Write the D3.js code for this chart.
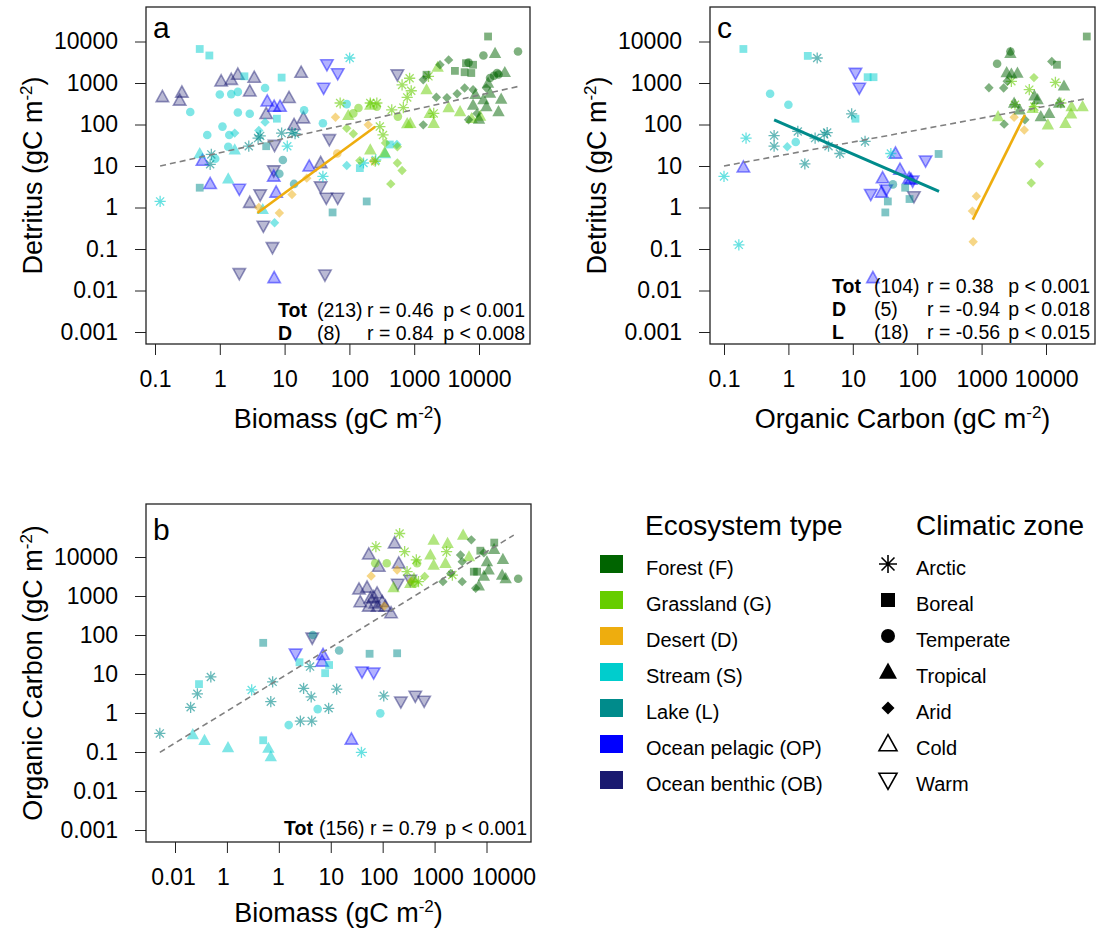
<!DOCTYPE html>
<html>
<head>
<meta charset="utf-8">
<script src="https://cdnjs.cloudflare.com/ajax/libs/d3/7.8.5/d3.min.js"></script>
<style>
  body { margin: 0; background: #fff; }
  text { font-family: "Liberation Sans", Arial, sans-serif; fill: #000; }
</style>
</head>
<body>
<div id="chart"></div>
<script>
// categories
var ecoNames = ["Forest (F)", "Grassland (G)", "Desert (D)", "Stream (S)", "Lake (L)", "Ocean pelagic (OP)", "Ocean benthic (OB)"];
var ecoColors = ["#006400", "#66cd00", "#eead0e", "#00cdcd", "#008b8b", "#0000ff", "#191970"];
var zoneNames = ["Arctic", "Boreal", "Temperate", "Tropical", "Arid", "Cold", "Warm"];
var zoneCodes = ["A", "B", "T", "P", "R", "C", "W"];

// panel a : biomass (x) vs detritus (y), [x, y, zone]
var aForest = [[13800,13200,"B"],[8100,2750,"B"],[6000,1820,"B"],[4250,1960,"B"],[1550,1580,"B"],[7600,1740,"B"],[6300,3000,"B"],
  [40000,5750,"T"],[11700,4600,"T"],[6900,3100,"T"],[14800,1320,"T"],[19000,1740,"T"],[20000,1600,"T"],[17000,1500,"T"],
  [17700,5200,"P"],[25000,1800,"P"],[13800,1000,"P"],[14800,570,"P"],[11700,400,"P"],[8800,530,"P"],[22000,410,"P"],[20000,205,"P"],[10000,135,"P"],[13000,270,"P"],[8100,295,"P"],
  [3400,3600,"R"],[2500,2750,"R"],[1380,1200,"R"],[2200,455,"R"],[3200,440,"R"],[4600,550,"R"],[6000,760,"R"],[6900,130,"R"],[9300,185,"R"],[1380,98,"R"],[8100,690,"R"],[13000,760,"R"]];
var aGrass = [[72,330,"A"],[210,330,"A"],[265,330,"A"],[650,900,"A"],[850,1300,"A"],[900,650,"A"],[780,450,"A"],[450,225,"A"],[680,255,"A"],[330,56,"A"],[295,89,"A"],[2000,185,"A"],[1660,1450,"A"],[250,13,"A"],
  [96,165,"P"],[210,295,"P"],[780,105,"P"],[870,107,"P"],[1550,690,"P"],[1740,185,"P"],[2000,107,"P"],[3400,255,"P"],[5100,205,"P"],[7700,140,"P"],[10400,160,"P"],[2300,2400,"P"],[350,21,"P"],[210,24.5,"P"],
  [138,250,"T"],[115,185,"T"],[265,270,"T"],[560,155,"T"],
  [91,81,"R"],[115,60,"R"],[145,13.5,"R"],[550,11.8,"R"],[650,7.8,"R"],[435,3.7,"R"],[550,29,"R"],[360,36,"R"]];
var aDesert = [[61,150,"R"],[195,98,"R"],[13,2.05,"R"],[22,5.1,"R"],[4,1.0,"R"],[8.3,0.74,"R"],[235,13,"R"],[65,20,"T"]];
var aStream = [[0.49,6600,"B"],[0.69,4600,"B"],[2.4,1450,"B"],[9,1350,"B"],[7.6,138,"B"],[420,33,"B"],[145,8.9,"B"],
  [1.0,530,"T"],[1.5,540,"T"],[1.9,610,"T"],[5,760,"T"],[0.35,200,"T"],[1.9,195,"T"],[2.9,182,"T"],[1.1,89,"T"],[0.64,56,"T"],[1.4,56,"T"],[1.35,29,"T"],[20,220,"T"],[39,107,"T"],[91,310,"T"],[0.85,15,"T"],
  [0.49,20,"P"],[1.7,24.5,"P"],[1.35,4.9,"P"],[4.6,0.9,"P"],[355,20,"P"],
  [1.7,62,"R"],[5,114,"R"],[4,72,"R"],[7,0.43,"R"],[91,10.3,"R"],[540,33,"R"],
  [0.12,1.4,"A"],[101,4000,"A"],[11,30,"A"],[39,5.6,"A"],[165,11.8,"A"],[255,14,"A"]];
var aLake = [[0.49,3.0,"B"],[185,1.4,"B"],[55,0.76,"B"],[5.2,30,"B"],
  [9.4,14,"T"],[8.3,6.5,"T"],[14,3.7,"T"],
  [0.74,19,"A"],[0.71,11,"A"],[2.8,30,"A"],[3.9,47,"A"],[4.2,53,"A"],[9,62,"A"],[13,64,"A"],[14.5,60,"A"]];
var aPelagic = [[5.4,360,"C"],[6.9,270,"C"],[8.5,270,"C"],[0.54,13.5,"C"],[0.71,3.7,"C"],[6.8,5.6,"C"],[7.4,2.3,"C"],[24,9.8,"C"],[6.9,0.02,"C"],
  [45,2800,"W"],[66,1700,"W"],[40,760,"W"],[2.0,2.8,"W"]];
var aBenthic = [[0.13,460,"C"],[0.26,590,"C"],[0.24,380,"C"],[1.05,1100,"C"],[1.5,1200,"C"],[1.9,1600,"C"],[3.4,1350,"C"],[2.9,630,"C"],[18,1780,"C"],[11.7,440,"C"],[5.2,180,"C"],[19.5,142,"C"],[14,98,"C"],[2.9,1.3,"C"],[36,11.8,"C"],
  [7,32,"W"],[49,44,"W"],[550,1600,"W"],[6.8,7.8,"W"],[4.2,2.05,"W"],[36,3.2,"W"],[44,1.7,"W"],[66,1.7,"W"],[4.7,0.36,"W"],[6.5,0.11,"W"],[2.0,0.026,"W"],[42,0.024,"W"]];
var aTotFit = [[0.12, 10], [41000, 830]];
var aDesertFit = [[3.8, 0.74], [250, 88]];
var aStats = [["Tot", "(213)", "r = 0.46", "p < 0.001"], ["D", "(8)", "r = 0.84", "p < 0.008"]];

// panel c : organic carbon (x) vs detritus (y)
var cForest = [[1740,2900,"T"],[2800,5750,"T"],
  [2800,5200,"P"],[2450,1780,"P"],[2900,1650,"P"],[3600,1740,"P"],[19000,850,"P"],[16000,330,"P"],[3200,330,"P"],[8300,155,"P"],[11200,185,"P"],[6600,490,"P"],[7400,400,"P"],[3900,225,"P"],
  [43000,13200,"B"],[14800,2750,"B"],
  [12300,3300,"R"],[1300,770,"R"],[2200,760,"R"],[2240,102,"R"],[4700,130,"R"],[2500,1100,"R"]];
var cGrass = [[6500,1350,"R"],[7900,11.3,"R"],[5900,3.9,"R"],
  [2900,1100,"A"],[5500,690,"A"],[14000,1030,"A"],[17000,330,"A"],[3300,300,"A"],[6600,270,"A"],
  [1800,155,"P"],[10700,98,"P"],[20000,107,"P"],[25000,270,"P"],[37000,270,"P"],[24500,180,"P"],[6200,245,"P"]];
var cDesert = [[830,1.86,"R"],[720,0.82,"R"],[740,0.15,"R"],[3200,150,"R"],[4600,74,"R"]];
var cStream = [[0.2,6600,"B"],[2.0,4500,"B"],[17,1380,"B"],[21,1380,"B"],[11,138,"B"],
  [0.52,550,"T"],[1.0,300,"T"],[1.3,38,"T"],
  [0.96,29,"R"],
  [0.22,47,"A"],[0.1,5.6,"A"],[0.17,0.126,"A"],[39,20,"A"]];
var cLake = [[0.6,54,"A"],[0.6,30,"A"],[1.4,68,"A"],[2.6,47,"A"],[4,64,"A"],[3.6,58,"A"],[4.2,30,"A"],[6.3,20,"A"],[1.8,11.3,"A"],[9.6,180,"A"],[15.5,39,"A"],[2.8,4000,"A"],
  [215,19.5,"B"],[65,3.0,"B"],[35,1.4,"B"],[32,0.76,"B"],[76,1.6,"B"],
  [42,3.6,"T"]];
var cPelagic = [[0.2,9.3,"C"],[46,20,"C"],[54,8.2,"C"],[29,5.1,"C"],[28,2.3,"C"],[20.5,0.02,"C"],[80,4.7,"C"],[75,5,"C"],
  [11,1740,"W"],[12.6,760,"W"],[19,2.1,"W"],[33,2.7,"W"],[135,13.5,"W"],[85,4.4,"W"]];
var cBenthic = [[89,1.85,"W"]];
var cTotFit = [[0.1, 10], [39000, 410]];
var cLakeFit = [[0.6, 130], [218, 2.45]];
var cDesertFit = [[730, 0.51], [4700, 170]];
var cStats = [["Tot", "(104)", "r = 0.38", "p < 0.001"], ["D", "(5)", "r = -0.94", "p < 0.018"], ["L", "(18)", "r = -0.56", "p < 0.015"]];

// panel b : biomass (x) vs organic carbon (y)
var bForest = [[14100,23400,"B"],[7600,14500,"B"],[5700,4200,"B"],[6600,4200,"B"],
  [14000,15800,"P"],[20700,8700,"P"],[10200,7600,"P"],[20000,3450,"P"],[23400,2800,"P"],[8900,3250,"P"],[7100,1820,"P"],[11000,4650,"P"],
  [40800,2760,"T"],
  [5100,27500,"R"],[3160,11300,"R"],[3400,7600,"R"],[2050,3800,"R"],[1450,2330,"R"],[3400,2330,"R"],[6200,1580,"R"],[8900,12900,"R"]];
var bGrass = [[74,18400,"A"],[212,40000,"A"],[265,13700,"A"],[445,8400,"A"],[295,4200,"A"],[1700,13700,"A"],[2200,3450,"A"],[490,2330,"A"],
  [72,6900,"T"],[120,6900,"T"],[460,6900,"T"],[415,2100,"T"],
  [960,27300,"P"],[1780,22500,"P"],[3550,36500,"P"],[830,11300,"P"],[162,1650,"P"],[400,2800,"P"],[340,2100,"P"],[960,6200,"P"],[1620,6900,"P"],[4600,10200,"P"],
  [645,3150,"R"]];
var bDesert = [[60,3250,"R"],[190,4650,"R"],[107,550,"R"],[355,2400,"R"]];
var bStream = [[0.3,3.9,"A"],[39,0.098,"A"],
  [0.029,5.5,"B"],[0.5,0.2,"B"],[2.5,20,"B"],[9.3,17,"B"],[7.8,10.5,"B"],
  [0.022,0.28,"P"],[0.037,0.2,"P"],[0.105,0.13,"P"],[0.63,0.125,"P"],[0.7,0.076,"P"],
  [1.55,0.49,"T"],[5.6,1.26,"T"],[90,0.98,"T"]];
var bLake = [[0.0051,0.3,"A"],[0.02,1.4,"A"],[0.027,3.1,"A"],[0.049,8.4,"A"],[0.76,6.3,"A"],[0.7,1.95,"A"],[4.0,15.5,"A"],[3.0,4.3,"A"],[4.2,2.6,"A"],[13,4.1,"A"],[9.1,1.32,"A"],[2.6,0.62,"A"],[4.3,0.62,"A"],[105,2.75,"A"],
  [0.5,63,"B"],[56,33,"B"],[190,34,"B"],
  [4.5,100,"T"],[14.5,40,"T"]];
var bPelagic = [[2.1,33,"W"],[40,11.5,"W"],[67,10.8,"W"],
  [7.1,31,"C"],[6.8,21,"C"],[25,0.21,"C"]];
var bBenthic = [[4.4,85,"W"],[224,1.95,"W"],[425,2.75,"W"],[630,2.05,"W"],[195,2040,"W"],[340,2580,"W"],
  [35,1480,"C"],[50,1650,"C"],[58,870,"C"],[78,1170,"C"],[54,540,"C"],[72,650,"C"],[98,710,"C"],[113,540,"C"],[145,365,"C"],[37,700,"C"],[67,930,"C"],[80,540,"C"],[54,11700,"C"],[84,5650,"C"],[170,22500,"C"],[204,6900,"C"]];
var bTotFit = [[0.0051, 0.098], [33500, 36500]];
var bStats = [["Tot", "(156)", "r = 0.79", "p < 0.001"]];

// tick labels
var yTickVals = [0.001, 0.01, 0.1, 1, 10, 100, 1000, 10000];
var yTickLabels = ["0.001", "0.01", "0.1", "1", "10", "100", "1000", "10000"];
var xTickValsAC = [0.1, 1, 10, 100, 1000, 10000];
var xTickLabelsAC = ["0.1", "1", "10", "100", "1000", "10000"];
var xTickValsB = [0.01, 0.1, 1, 10, 100, 1000, 10000];
var xTickLabelsB = ["0.01", "1", "1", "10", "100", "1000", "10000"];

var svg = d3.select("#chart")
    .append("svg")
    .attr("width", 1098)
    .attr("height", 930);

// marker shapes, s = half size
function shapePath(z, s) {
  if (z == "B") return "M" + (-s) + "," + (-s) + "h" + 2*s + "v" + 2*s + "h" + (-2*s) + "Z";
  if (z == "T") return "M" + s + ",0A" + s + "," + s + " 0 1 1 " + (-s) + ",0A" + s + "," + s + " 0 1 1 " + s + ",0Z";
  if (z == "P" || z == "C") return "M0," + (-1.05*s) + "L" + s + "," + (0.75*s) + "L" + (-s) + "," + (0.75*s) + "Z";
  if (z == "W") return "M0," + (1.05*s) + "L" + s + "," + (-0.75*s) + "L" + (-s) + "," + (-0.75*s) + "Z";
  if (z == "R") return "M0," + (-s) + "L" + s + ",0L0," + s + "L" + (-s) + ",0Z";
  // asterisk
  var d = 0.72 * s;
  return "M" + (-s) + ",0H" + s + "M0," + (-s) + "V" + s +
    "M" + (-d) + "," + (-d) + "L" + d + "," + d + "M" + d + "," + (-d) + "L" + (-d) + "," + d;
}
var markSize = {B: 3.9, T: 4.3, P: 6.2, C: 6.2, W: 6.2, R: 4.7, A: 5.6};

function styleMark(sel, color) {
  sel.each(function(d) {
    var el = d3.select(this);
    if (d[2] == "A") {
      el.attr("fill", "none").attr("stroke", color).attr("stroke-width", 1.3).attr("stroke-opacity", 0.6);
    } else if (d[2] == "C" || d[2] == "W") {
      el.attr("fill", color).attr("fill-opacity", 0.3)
        .attr("stroke", color).attr("stroke-opacity", 0.45).attr("stroke-width", 1.6);
    } else {
      el.attr("fill", color).attr("fill-opacity", 0.5).attr("stroke", "none");
    }
  });
}

function supTitle(sel, main) {
  sel.append("tspan").text(main + " (gC m");
  sel.append("tspan").attr("font-size", "17px").attr("dy", -10).text("-2");
  sel.append("tspan").attr("dy", 10).text(")");
}

function drawPanel(p) {
  var x = d3.scaleLog().domain(p.xAnchor).range(p.xPix);
  var y = d3.scaleLog().domain(p.yAnchor).range(p.yPix);
  var g = svg.append("g");

  // axes
  g.append("g")
    .attr("transform", "translate(0," + p.box[3] + ")")
    .call(d3.axisBottom(x).tickValues(p.xTicks).tickSize(11).tickPadding(16)
      .tickFormat(function(d, i) { return p.xLabels[i]; }))
    .call(function(a) {
      a.select(".domain").remove();
      a.selectAll("line").attr("stroke", "#222");
      a.selectAll("text").style("font-size", "23px").attr("font-family", null)
        .attr("dx", function(d, i) { return p.xLabelDx ? p.xLabelDx[i] : 0; });
    });
  g.append("g")
    .attr("transform", "translate(" + p.box[0] + ",0)")
    .call(d3.axisLeft(y).tickValues(yTickVals).tickSize(11).tickPadding(17)
      .tickFormat(function(d, i) { return yTickLabels[i]; }))
    .call(function(a) {
      a.select(".domain").remove();
      a.selectAll("line").attr("stroke", "#222");
      a.selectAll("text").style("font-size", "23px").attr("font-family", null);
    });

  // box
  g.append("rect")
    .attr("x", p.box[0]).attr("y", p.box[1])
    .attr("width", p.box[2] - p.box[0]).attr("height", p.box[3] - p.box[1])
    .attr("fill", "none").attr("stroke", "#222").attr("stroke-width", 1.3);

  // points
  p.groups.forEach(function(grp) {
    var pts = g.append("g").selectAll("path")
      .data(grp.data)
      .enter()
      .append("path")
      .attr("d", function(d) { return shapePath(d[2], markSize[d[2]]); })
      .attr("transform", function(d) { return "translate(" + x(d[0]) + "," + y(d[1]) + ")"; });
    styleMark(pts, ecoColors[grp.eco]);
  });

  // fits
  var line = d3.line().x(function(d) { return x(d[0]); }).y(function(d) { return y(d[1]); });
  p.fits.forEach(function(f) {
    g.append("path")
      .attr("d", line(f.data))
      .attr("fill", "none")
      .attr("stroke", f.color)
      .attr("stroke-width", f.width)
      .attr("stroke-dasharray", f.dash || null);
  });

  // panel letter
  g.append("text")
    .attr("x", p.box[0] + 7).attr("y", p.box[1] + p.letterDy)
    .style("font-size", "30px")
    .text(p.letter);

  // stats
  p.stats.forEach(function(s, i) {
    var yy = p.statY + i * 23;
    var t = g.append("g").style("font-size", "19.5px");
    t.append("text").attr("x", p.statX[0]).attr("y", yy).style("font-weight", "bold").text(s[0]);
    t.append("text").attr("x", p.statX[1]).attr("y", yy).text(s[1]);
    t.append("text").attr("x", p.statX[2]).attr("y", yy).text(s[2]);
    t.append("text").attr("x", p.statX[3]).attr("y", yy).attr("text-anchor", "end").text(s[3]);
  });

  // axis titles
  var cx = (p.box[0] + p.box[2]) / 2, cy = (p.box[1] + p.box[3]) / 2;
  g.append("text")
    .attr("x", cx).attr("y", p.box[3] + p.xTitleDy)
    .attr("text-anchor", "middle")
    .style("font-size", "27px")
    .call(supTitle, p.xTitle);
  g.append("text")
    .attr("transform", "translate(" + (p.box[0] - 104) + "," + cy + ") rotate(-90)")
    .attr("text-anchor", "middle")
    .style("font-size", "27px")
    .call(supTitle, p.yTitle);
}

drawPanel({
  letter: "a", letterDy: 31,
  box: [146, 7, 530, 344],
  xAnchor: [0.1, 10000], xPix: [155, 479],
  yAnchor: [10000, 0.001], yPix: [41.5, 332],
  xTicks: xTickValsAC, xLabels: xTickLabelsAC,
  xTitle: "Biomass", yTitle: "Detritus", xTitleDy: 84,
  groups: [{eco: 6, data: aBenthic}, {eco: 5, data: aPelagic}, {eco: 3, data: aStream}, {eco: 4, data: aLake},
           {eco: 2, data: aDesert}, {eco: 1, data: aGrass}, {eco: 0, data: aForest}],
  fits: [{data: aTotFit, color: "#808080", width: 1.6, dash: "6,4"},
         {data: aDesertFit, color: "#eead0e", width: 2.6}],
  stats: aStats, statX: [278, 317, 367, 525], statY: 317
});

drawPanel({
  letter: "c", letterDy: 31,
  box: [710, 7, 1095, 344],
  xAnchor: [0.1, 10000], xPix: [724, 1046],
  yAnchor: [10000, 0.001], yPix: [41.5, 332],
  xTicks: xTickValsAC, xLabels: xTickLabelsAC,
  xTitle: "Organic Carbon", yTitle: "Detritus", xTitleDy: 84,
  groups: [{eco: 6, data: cBenthic}, {eco: 5, data: cPelagic}, {eco: 3, data: cStream}, {eco: 4, data: cLake},
           {eco: 2, data: cDesert}, {eco: 1, data: cGrass}, {eco: 0, data: cForest}],
  fits: [{data: cTotFit, color: "#808080", width: 1.6, dash: "6,4"},
         {data: cLakeFit, color: "#008b8b", width: 3},
         {data: cDesertFit, color: "#eead0e", width: 2.6}],
  stats: cStats, statX: [832, 874, 927, 1090], statY: 293
});

drawPanel({
  letter: "b", letterDy: 36,
  box: [146, 504, 531, 842],
  xAnchor: [0.01, 10000], xPix: [175, 486.5],
  yAnchor: [10000, 0.001], yPix: [557, 830],
  xTicks: xTickValsB, xLabels: xTickLabelsB, xLabelDx: [-2, -4, -1, 0, -4, 3, 17],
  xTitle: "Biomass", yTitle: "Organic Carbon", xTitleDy: 80,
  groups: [{eco: 6, data: bBenthic}, {eco: 5, data: bPelagic}, {eco: 3, data: bStream}, {eco: 4, data: bLake},
           {eco: 2, data: bDesert}, {eco: 1, data: bGrass}, {eco: 0, data: bForest}],
  fits: [{data: bTotFit, color: "#808080", width: 1.6, dash: "6,4"}],
  stats: bStats, statX: [284, 319, 370, 527], statY: 835
});

// legend
var legend = svg.append("g");
legend.append("text").attr("x", 645).attr("y", 535).style("font-size", "28px").text("Ecosystem type");
legend.append("text").attr("x", 916).attr("y", 535).style("font-size", "28px").text("Climatic zone");

ecoNames.forEach(function(name, i) {
  var row = legend.append("g").attr("transform", "translate(0," + (564 + i * 36) + ")");
  row.append("rect").attr("x", 600).attr("y", -9).attr("width", 23).attr("height", 18).attr("fill", ecoColors[i]);
  row.append("text").attr("x", 646).attr("y", 11).style("font-size", "20px").text(name);
});

var legSize = {A: 9, B: 7, T: 7, P: 9, R: 6.5, C: 9, W: 9};
zoneNames.forEach(function(name, i) {
  var z = zoneCodes[i];
  var row = legend.append("g").attr("transform", "translate(0," + (564 + i * 36) + ")");
  var sym = row.append("path")
    .attr("d", shapePath(z, legSize[z]))
    .attr("transform", "translate(888,0)");
  if (z == "A" || z == "C" || z == "W") sym.attr("fill", "none").attr("stroke", "#000").attr("stroke-width", 1.6);
  else sym.attr("fill", "#000");
  row.append("text").attr("x", 916).attr("y", 11).style("font-size", "20px").text(name);
});
</script>
</body>
</html>
